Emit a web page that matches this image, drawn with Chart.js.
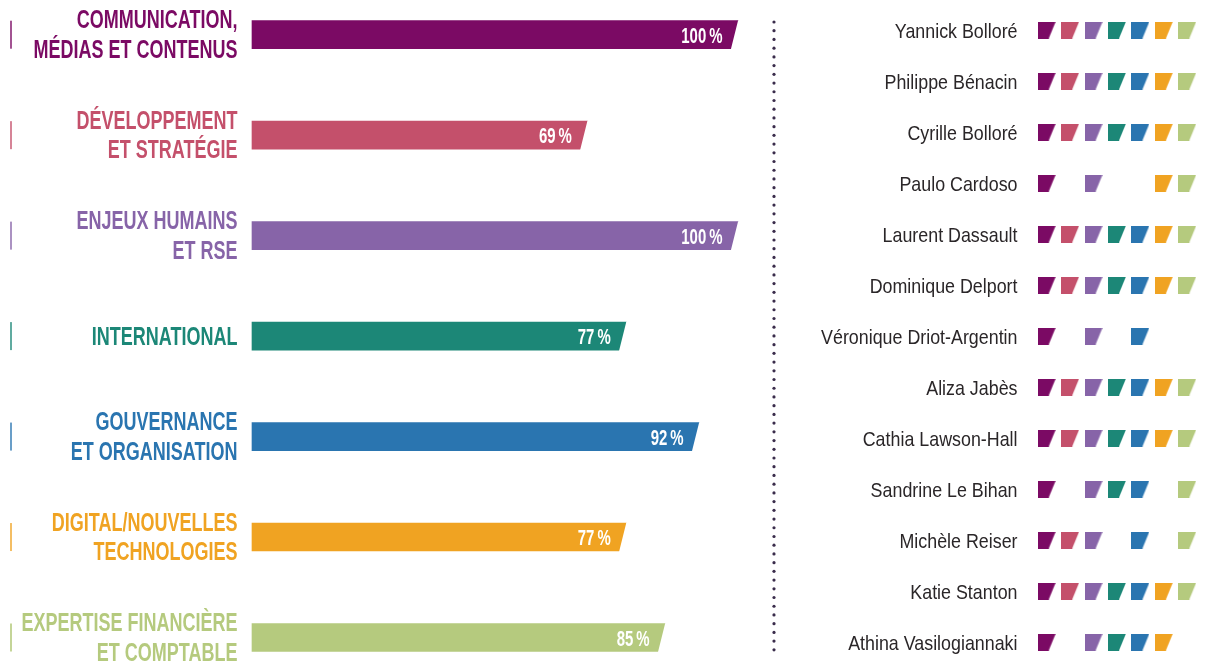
<!DOCTYPE html>
<html><head><meta charset="utf-8">
<script src="https://cdn.jsdelivr.net/npm/chart.js@4"></script>
<style>
html,body{margin:0;padding:0;background:#fff;width:1208px;height:663px;overflow:hidden}
#c1{position:absolute;left:0;top:0}
#c2{position:absolute;left:770px;top:0}
</style></head><body>
<canvas id="c1" width="770" height="663"></canvas>
<canvas id="c2" width="438" height="663"></canvas>
<script>
// ---- data ----
const categories = [
  ["COMMUNICATION,", "MÉDIAS ET CONTENUS"],
  ["DÉVELOPPEMENT", "ET STRATÉGIE"],
  ["ENJEUX HUMAINS", "ET RSE"],
  ["INTERNATIONAL"],
  ["GOUVERNANCE", "ET ORGANISATION"],
  ["DIGITAL/NOUVELLES", "TECHNOLOGIES"],
  ["EXPERTISE FINANCIÈRE", "ET COMPTABLE"]
];
const percentages = [100, 69, 100, 77, 92, 77, 85];
const colors = ['#7b0a64', '#c4506b', '#8764a8', '#1c8777', '#2a75b0', '#f0a322', '#b5ca7e'];
const tickColors = ['rgba(123,10,100,0.7)', 'rgba(196,80,107,0.7)', 'rgba(135,100,168,0.7)', 'rgba(28,135,119,0.7)', 'rgba(42,117,176,0.7)', 'rgba(240,163,34,0.7)', 'rgba(181,202,126,0.8)'];
const directors = [
  "Yannick Bolloré", "Philippe Bénacin", "Cyrille Bolloré", "Paulo Cardoso",
  "Laurent Dassault", "Dominique Delport", "Véronique Driot-Argentin",
  "Aliza Jabès", "Cathia Lawson-Hall", "Sandrine Le Bihan", "Michèle Reiser",
  "Katie Stanton", "Athina Vasilogiannaki"
];
// columns follow the categories order
const skills = [
  [1,1,1,1,1,1,1],
  [1,1,1,1,1,1,1],
  [1,1,1,1,1,1,1],
  [1,0,1,0,0,1,1],
  [1,1,1,1,1,1,1],
  [1,1,1,1,1,1,1],
  [1,0,1,0,1,0,0],
  [1,1,1,1,1,1,1],
  [1,1,1,1,1,1,1],
  [1,0,1,1,1,0,1],
  [1,1,1,0,1,0,1],
  [1,1,1,1,1,1,1],
  [1,0,1,1,1,1,0]
];

const FONT = '"Liberation Sans", Arial, "DejaVu Sans", sans-serif';

// draw horizontally condensed text, right-aligned at xr, baseline at yb
function condText(ctx, text, xr, yb, font, sx, color) {
  ctx.save();
  ctx.font = font;
  ctx.fillStyle = color;
  ctx.textAlign = 'right';
  ctx.textBaseline = 'alphabetic';
  ctx.translate(xr, yb);
  ctx.scale(sx, 1);
  ctx.fillText(text, 0, 0);
  ctx.restore();
}

// ---- left chart: bars ----
const barPlugin = {
  id: 'barDecor',
  afterDatasetsDraw(chart) {
    const ctx = chart.ctx;
    const meta = chart.getDatasetMeta(0);
    const yScale = chart.scales.y;
    meta.data.forEach((bar, i) => {
      const p = bar.getProps(['x', 'y', 'height'], true);
      const top = p.y - p.height / 2, bot = p.y + p.height / 2;
      const slant = 7;
      ctx.save();
      // slanted end
      ctx.fillStyle = '#ffffff';
      ctx.beginPath();
      ctx.moveTo(p.x, top);
      ctx.lineTo(p.x + 3, top - 1);
      ctx.lineTo(p.x + 3, bot + 1);
      ctx.lineTo(p.x - slant - 0.25, bot + 1);
      ctx.closePath();
      ctx.fill();
      ctx.restore();
      // value label: number + small gap + %
      const vfont = 'bold 22px ' + FONT;
      const sx = 0.68;
      ctx.save();
      ctx.font = vfont;
      const pw = ctx.measureText('%').width * sx;
      ctx.restore();
      const xr = p.x - 15.5;
      condText(ctx, '%', xr, p.y + 8, vfont, sx, '#ffffff');
      condText(ctx, String(percentages[i]), xr - pw - 3, p.y + 8, vfont, sx, '#ffffff');
      // small tick at far left
      ctx.fillStyle = tickColors[i];
      ctx.fillRect(10, top, 2, p.height);
      // category label
      const lines = categories[i];
      const lh = 29.5;
      const y0 = yScale.getPixelForValue(i) - (lines.length - 1) * lh / 2 + 8.5;
      lines.forEach((ln, k) => {
        condText(ctx, ln, 237.5, y0 + k * lh, 'bold 25px ' + FONT, 0.72, colors[i]);
      });
    });
  }
};

new Chart(document.getElementById('c1'), {
  type: 'bar',
  data: {
    labels: categories.map(l => l.join(' ')),
    datasets: [{
      data: percentages,
      backgroundColor: colors,
      borderWidth: 0,
      barThickness: 28,
      clip: false
    }]
  },
  options: {
    indexAxis: 'y',
    responsive: false,
    animation: false,
    events: [],
    layout: { padding: { top: 34.7, bottom: 25.5, left: 252, right: 32 } },
    plugins: { legend: { display: false }, tooltip: { enabled: false } },
    scales: {
      x: { display: false, min: 0, max: 100 },
      y: { display: false, offset: false }
    }
  },
  plugins: [barPlugin]
});

// ---- right chart: matrix ----
function markImg(color) {
  const c = document.createElement('canvas');
  c.width = 18; c.height = 17;
  const g = c.getContext('2d');
  g.fillStyle = color;
  g.beginPath();
  g.moveTo(0, 0); g.lineTo(18, 0); g.lineTo(11, 17); g.lineTo(0, 17);
  g.closePath(); g.fill();
  return c;
}

const matrixPlugin = {
  id: 'matrixDecor',
  beforeDraw(chart) {
    const ctx = chart.ctx;
    ctx.save();
    ctx.fillStyle = '#3a2c4b';
    for (let k = 0; k < 73; k++) {
      ctx.beginPath();
      ctx.arc(4, 22 + k * 8.72, 1.6, 0, Math.PI * 2);
      ctx.fill();
    }
    ctx.restore();
  },
  afterDraw(chart) {
    const ctx = chart.ctx;
    const yScale = chart.scales.y;
    directors.forEach((n, i) => {
      const y = yScale.getPixelForValue(i);
      condText(ctx, n, 247.5, y + 7.8, '21px ' + FONT, 0.85, '#2a2628');
    });
  }
};

const matrixSets = colors.map((col, j) => ({
  data: directors.map((n, i) => skills[i][j] ? { x: j, y: n } : null).filter(Boolean),
  pointStyle: markImg(col),
  pointRadius: 9,
  pointHoverRadius: 9,
  borderWidth: 0
}));

new Chart(document.getElementById('c2'), {
  type: 'scatter',
  data: { datasets: matrixSets },
  options: {
    responsive: false,
    animation: false,
    events: [],
    layout: { padding: { top: 30, bottom: 21, left: 265, right: 1.5 } },
    plugins: { legend: { display: false }, tooltip: { enabled: false } },
    scales: {
      x: { type: 'linear', display: false, min: -0.5, max: 6.5 },
      y: { type: 'category', labels: directors, offset: false, display: false }
    }
  },
  plugins: [matrixPlugin]
});
</script>
</body></html>
